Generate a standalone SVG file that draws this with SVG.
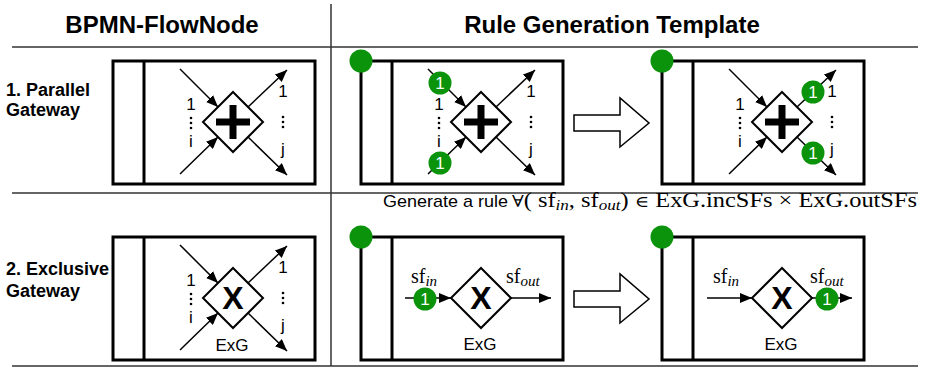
<svg xmlns="http://www.w3.org/2000/svg" width="927" height="369" viewBox="0 0 927 369">
<defs>
<marker id="ah" markerWidth="12" markerHeight="10" refX="12" refY="5" orient="auto" markerUnits="userSpaceOnUse"><path d="M0,0 L12,5 L0,10 Z" fill="#000"/></marker>
<g id="dots"><circle cx="0" cy="-4" r="1.3"/><circle cx="0" cy="1" r="1.3"/><circle cx="0" cy="6" r="1.3"/></g>
<style>
.t{font-family:"Liberation Sans",Arial,sans-serif;fill:#000}
.h{font-size:24px;font-weight:bold;text-anchor:middle}
.rl{font-size:18px;font-weight:bold}
.lb{font-size:17px;text-anchor:middle}
.m{font-family:"Liberation Serif","Times New Roman",serif;fill:#000}
.box{fill:#fff;stroke:#000;stroke-width:3}
.lane{stroke:#000;stroke-width:3}
.dia{fill:#fff;stroke:#000;stroke-width:2}
.ar{stroke:#000;stroke-width:1.5;fill:none;marker-end:url(#ah)}
.sep{stroke:#333;stroke-width:1.5}
.tok{fill:#0b930b}
.tk{font-family:"Liberation Sans",Arial,sans-serif;font-size:17px;fill:#fff;text-anchor:middle}
.blk{fill:#fff;stroke:#000;stroke-width:1.5}
</style>
</defs>
<rect width="927" height="369" fill="#fff"/>
<g id="grid">
<line class="sep" x1="12" y1="47" x2="918" y2="47"/>
<line class="sep" x1="12" y1="193" x2="918" y2="193"/>
<line class="sep" x1="12" y1="366" x2="918" y2="366"/>
<line class="sep" x1="331" y1="4" x2="331" y2="366"/>
</g>
<g id="headers">
<text class="t h" x="162" y="33">BPMN-FlowNode</text>
<text class="t h" x="612" y="33">Rule Generation Template</text>
<text class="t rl" x="6" y="96">1. Parallel</text>
<text class="t rl" x="6" y="116">Gateway</text>
<text class="t rl" x="6" y="275">2. Exclusive</text>
<text class="t rl" x="6" y="297">Gateway</text>
</g>
<g id="caption">
<text class="t" x="383" y="207" font-size="17" textLength="125" lengthAdjust="spacingAndGlyphs">Generate a rule</text>
<text class="m" x="512" y="207" font-size="20" textLength="405" lengthAdjust="spacingAndGlyphs"><tspan font-family="DejaVu Serif" font-size="16" font-weight="normal">∀</tspan>( sf<tspan font-style="italic" font-size="14" dy="3">in</tspan><tspan dy="-3">, sf</tspan><tspan font-style="italic" font-size="14" dy="3">out</tspan><tspan dy="-3">) </tspan><tspan font-family="DejaVu Serif" font-size="16">∈</tspan> ExG.incSFs × ExG.outSFs</text>
</g>
<!-- Row 1 col 1 -->
<g id="pg-node">
<rect class="box" x="113" y="61" width="202" height="123"/>
<line class="lane" x1="144" y1="61" x2="144" y2="184"/>
<g transform="translate(233,122)">
<line class="ar" x1="-53" y1="-53" x2="-15" y2="-15"/>
<line class="ar" x1="-53" y1="52" x2="-15" y2="15"/>
<line class="ar" x1="15" y1="-15" x2="54" y2="-52"/>
<line class="ar" x1="15" y1="15" x2="54" y2="53"/>
<path class="dia" d="M0,-30 L30,0 L0,30 L-30,0 Z"/>
<rect x="-3.5" y="-17" width="7" height="34"/>
<rect x="-17" y="-3.5" width="34" height="7"/>
<text class="t lb" x="-42" y="-12">1</text>
<use href="#dots" x="-42" y="0"/>
<text class="t lb" x="-42" y="25">i</text>
<text class="t lb" x="50" y="-25">1</text>
<use href="#dots" x="50" y="-1"/>
<text class="t lb" x="50" y="33">j</text>
</g>
</g>
<!-- Row 1 col 2 -->
<g id="pg-before">
<rect class="box" x="361" y="61" width="202" height="123"/>
<line class="lane" x1="392" y1="61" x2="392" y2="184"/>
<circle class="tok" cx="361" cy="61" r="11.5"/>
<g transform="translate(481,122)">
<line class="ar" x1="-53" y1="-53" x2="-15" y2="-15"/>
<line class="ar" x1="-53" y1="52" x2="-15" y2="15"/>
<line class="ar" x1="15" y1="-15" x2="54" y2="-52"/>
<line class="ar" x1="15" y1="15" x2="54" y2="53"/>
<path class="dia" d="M0,-30 L30,0 L0,30 L-30,0 Z"/>
<rect x="-3.5" y="-17" width="7" height="34"/>
<rect x="-17" y="-3.5" width="34" height="7"/>
<text class="t lb" x="-42" y="-12">1</text>
<use href="#dots" x="-42" y="0"/>
<text class="t lb" x="-42" y="25">i</text>
<text class="t lb" x="50" y="-25">1</text>
<use href="#dots" x="50" y="-1"/>
<text class="t lb" x="50" y="33">j</text>
<circle class="tok" cx="-41" cy="-39" r="11.5"/>
<text class="tk" x="-41" y="-33">1</text>
<circle class="tok" cx="-41" cy="41" r="11.5"/>
<text class="tk" x="-41" y="47">1</text>
</g>
</g>
<!-- Row 1 col 3 -->
<g id="pg-after">
<rect class="box" x="662" y="61" width="202" height="123"/>
<line class="lane" x1="693" y1="61" x2="693" y2="184"/>
<circle class="tok" cx="662" cy="61" r="11.5"/>
<g transform="translate(782,122)">
<line class="ar" x1="-53" y1="-53" x2="-15" y2="-15"/>
<line class="ar" x1="-53" y1="52" x2="-15" y2="15"/>
<line class="ar" x1="15" y1="-15" x2="54" y2="-52"/>
<line class="ar" x1="15" y1="15" x2="54" y2="53"/>
<path class="dia" d="M0,-30 L30,0 L0,30 L-30,0 Z"/>
<rect x="-3.5" y="-17" width="7" height="34"/>
<rect x="-17" y="-3.5" width="34" height="7"/>
<text class="t lb" x="-42" y="-12">1</text>
<use href="#dots" x="-42" y="0"/>
<text class="t lb" x="-42" y="25">i</text>
<text class="t lb" x="50" y="-25">1</text>
<use href="#dots" x="50" y="-1"/>
<text class="t lb" x="50" y="33">j</text>
<circle class="tok" cx="31" cy="-30" r="11.5"/>
<text class="tk" x="31" y="-24">1</text>
<circle class="tok" cx="31" cy="31" r="11.5"/>
<text class="tk" x="31" y="37">1</text>
</g>
</g>
<!-- Row 2 col 1 -->
<g id="xg-node">
<rect class="box" x="113" y="237" width="202" height="123"/>
<line class="lane" x1="144" y1="237" x2="144" y2="360"/>
<g transform="translate(233,298)">
<line class="ar" x1="-53" y1="-53" x2="-15" y2="-15"/>
<line class="ar" x1="-53" y1="52" x2="-15" y2="15"/>
<line class="ar" x1="15" y1="-15" x2="54" y2="-52"/>
<line class="ar" x1="15" y1="15" x2="54" y2="53"/>
<path class="dia" d="M0,-30 L30,0 L0,30 L-30,0 Z"/>
<text class="t" x="0" y="11" font-size="32" font-weight="bold" text-anchor="middle">X</text>
<text class="t lb" x="-42" y="-12">1</text>
<use href="#dots" x="-42" y="0"/>
<text class="t lb" x="-42" y="25">i</text>
<text class="t lb" x="50" y="-25">1</text>
<use href="#dots" x="50" y="-1"/>
<text class="t lb" x="50" y="33">j</text>
<text class="t lb" x="-1" y="53">ExG</text>
</g>
</g>
<!-- Row 2 col 2 -->
<g id="xg-before">
<rect class="box" x="361" y="237" width="202" height="123"/>
<line class="lane" x1="392" y1="237" x2="392" y2="360"/>
<circle class="tok" cx="361" cy="237" r="11.5"/>
<line class="ar" x1="405" y1="298" x2="451" y2="298"/>
<line class="ar" x1="511" y1="298" x2="551" y2="298"/>
<path class="dia" d="M481,268 L511,298 L481,328 L451,298 Z"/>
<text class="t" x="481" y="309" font-size="32" font-weight="bold" text-anchor="middle">X</text>
<text class="t lb" x="480" y="350">ExG</text>
<text class="m" x="411" y="283" font-size="20">sf<tspan font-style="italic" font-size="15" dy="3">in</tspan></text>
<text class="m" x="506" y="283" font-size="20">sf<tspan font-style="italic" font-size="15" dy="3">out</tspan></text>
<circle class="tok" cx="425" cy="299" r="11.5"/>
<text class="tk" x="425" y="305">1</text>
</g>
<!-- Row 2 col 3 -->
<g id="xg-after">
<rect class="box" x="662" y="237" width="202" height="123"/>
<line class="lane" x1="693" y1="237" x2="693" y2="360"/>
<circle class="tok" cx="662" cy="237" r="11.5"/>
<line class="ar" x1="707" y1="298" x2="752" y2="298"/>
<line class="ar" x1="812" y1="298" x2="852" y2="298"/>
<path class="dia" d="M782,268 L812,298 L782,328 L752,298 Z"/>
<text class="t" x="782" y="309" font-size="32" font-weight="bold" text-anchor="middle">X</text>
<text class="t lb" x="781" y="350">ExG</text>
<text class="m" x="713" y="283" font-size="20">sf<tspan font-style="italic" font-size="15" dy="3">in</tspan></text>
<text class="m" x="810" y="283" font-size="20">sf<tspan font-style="italic" font-size="15" dy="3">out</tspan></text>
<circle class="tok" cx="827" cy="299" r="11.5"/>
<text class="tk" x="827" y="305">1</text>
</g>
<g id="connectors">
<polygon id="arrow1" class="blk" points="574,115 620,115 620,98 649,123 620,147 620,131 574,131"/>
<polygon id="arrow2" class="blk" points="574,291 620,291 620,274 649,299 620,323 620,307 574,307"/>
</g>
</svg>
